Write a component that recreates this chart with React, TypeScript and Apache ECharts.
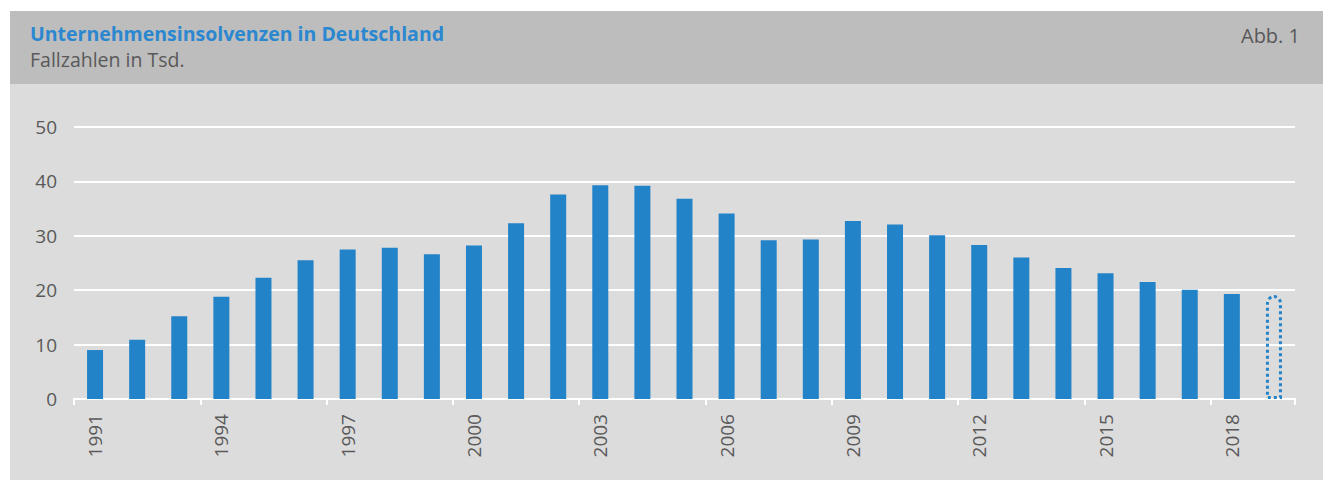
import React, { useEffect, useRef } from "react";
import * as echarts from "echarts";

const years = ["1991","1992","1993","1994","1995","1996","1997","1998","1999","2000","2001","2002","2003","2004","2005","2006","2007","2008","2009","2010","2011","2012","2013","2014","2015","2016","2017","2018","2019"];
const insolvencies = [9.0,10.9,15.2,18.8,22.3,25.5,27.5,27.8,26.6,28.2,32.3,37.6,39.3,39.2,36.8,34.1,29.2,29.3,32.7,32.1,30.1,28.3,26.0,24.1,23.1,21.5,20.1,19.3,19.1];
const forecastIndex = 28;
const yTicks = [0, 10, 20, 30, 40, 50];

const BLUE = "#2383c8";
const TEXT = "#595959";
const FONT = "'Open Sans'";

export default function App() {
  const ref = useRef<HTMLDivElement>(null);
  useEffect(() => {
    if (!ref.current) return;
    const chart = echarts.init(ref.current, null, { renderer: "svg" });
    const data = insolvencies.map((v, i) =>
      i === forecastIndex
        ? {
            value: v,
            itemStyle: {
              color: "rgba(0,0,0,0)",
              borderColor: BLUE,
              borderWidth: 3,
              borderType: [3, 3],
              borderRadius: [8, 8, 0, 0],
            },
          }
        : { value: v }
    );
    chart.setOption({
      animation: false,
      graphic: [
        { type: "rect", z: -10, shape: { x: 10, y: 11, width: 1313, height: 73 }, style: { fill: "#bdbdbd" } },
        { type: "rect", z: -10, shape: { x: 10, y: 84, width: 1313, height: 396 }, style: { fill: "#dcdcdc" } },
        { type: "text", x: 30, y: 33, style: { text: "Unternehmensinsolvenzen in Deutschland", fill: "#2a87d0", font: "bold 19.5px " + FONT, verticalAlign: "middle" } },
        { type: "text", x: 30, y: 59, style: { text: "Fallzahlen in Tsd.", fill: TEXT, font: "19.5px " + FONT, verticalAlign: "middle" } },
        { type: "text", x: 1300, y: 35, style: { text: "Abb. 1", fill: TEXT, font: "20px " + FONT, align: "right", verticalAlign: "middle" } },
      ],
      grid: { left: 74, right: 28, top: 127, bottom: 81, containLabel: false },
      xAxis: {
        type: "category",
        data: years,
        axisLine: { show: true, lineStyle: { color: "#ffffff", width: 2 } },
        axisTick: { show: true, interval: 2, length: 6, lineStyle: { color: "#ffffff", width: 2 } },
        axisLabel: { rotate: 90, interval: 2, margin: 15, fontSize: 19, color: TEXT, fontFamily: FONT },
      },
      yAxis: {
        type: "value",
        min: 0,
        max: 50,
        interval: 10,
        axisLine: { show: false },
        axisTick: { show: false },
        splitLine: { show: true, lineStyle: { color: "#ffffff", width: 2 } },
        axisLabel: {
          fontSize: 19,
          color: TEXT,
          margin: 17,
          fontFamily: FONT,
          formatter: (v: number) => (yTicks.includes(v) ? String(v) : ""),
        },
      },
      series: [
        {
          type: "bar",
          data,
          barWidth: 16,
          itemStyle: { color: BLUE },
        },
      ],
    });
    return () => chart.dispose();
  }, []);
  return (
    <div
      ref={ref}
      style={{ position: "absolute", left: 0, top: 0, width: 1323, height: 480, background: "#ffffff" }}
    />
  );
}
